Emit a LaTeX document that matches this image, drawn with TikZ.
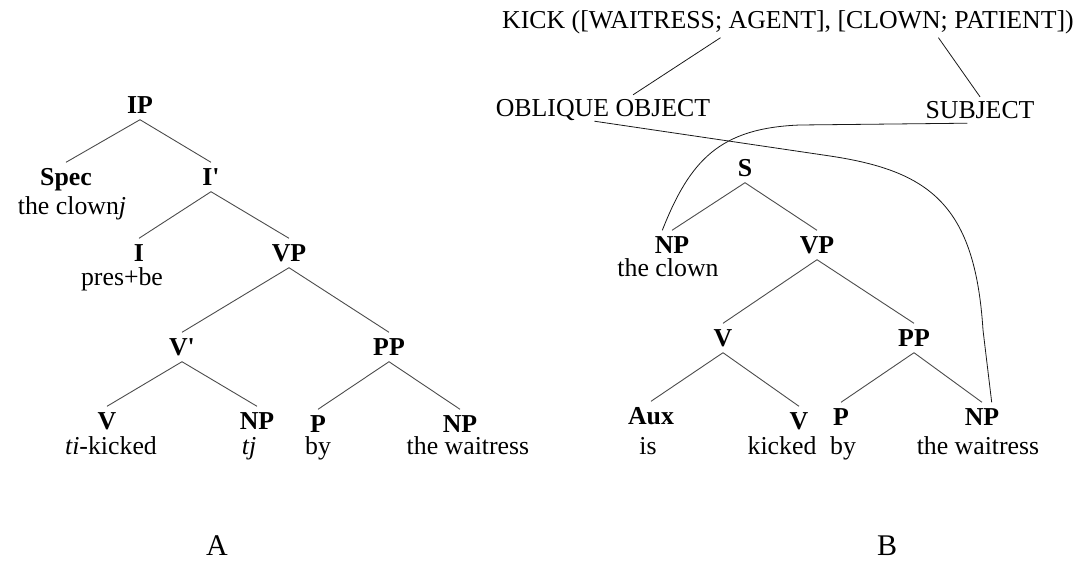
\documentclass[tikz,border=0pt]{standalone}
\usepackage{fontspec}
\setmainfont{Liberation Serif}
\usetikzlibrary{calc}

\tikzset{
  cat/.style={font=\fontsize{25.8}{30}\selectfont\bfseries, inner xsep=2pt, inner ysep=6pt, text height=17pt, text depth=0pt},
  word/.style={font=\fontsize{25.8}{30}\selectfont, inner sep=0pt, text height=17pt, text depth=0pt},
  role/.style={font=\fontsize{25.8}{30}\selectfont, inner xsep=0pt, inner ysep=4.5pt, text height=17pt, text depth=0pt},
  branch/.style={black!70, line width=0.9pt},
  link/.style={black!90, line width=0.8pt},
  panel/.style={font=\fontsize{30}{34}\selectfont, inner sep=0pt},
}

\begin{document}
\begin{tikzpicture}[x=1pt, y=-1pt]
                \useasboundingbox (0,0) rectangle (1088,562);

                %% tree A
                \node[cat] (ipA)   at (140,105) {IP};
                \node[cat] (specA) at (66,177)  {Spec};
                \node[cat] (ibarA) at (211,177) {I\textquotesingle};
                \node[cat] (iA)    at (139,253) {I};
                \node[cat] (vpA)   at (289,253) {VP};
                \node[cat] (vbarA) at (182,347) {V\textquotesingle};
                \node[cat] (ppA)   at (389,347) {PP};
                \node[cat] (vA)    at (107,421) {V};
                \node[cat] (npA)   at (257,421) {NP};
                \node[cat] (pA)    at (318,424) {P};
                \node[cat] (npAA)  at (460,424) {NP};

                \node[word] (clownA)   at (72,206)  {the clown\textit{j}};
                \node[word] (presA)    at (122,277) {pres+be};
                \node[word] (kickedA)  at (111,446) {\textit{ti}-kicked};
                \node[word] (traceA)   at (249,446) {\textit{tj}};
                \node[word] (byA)      at (318,446) {by};
                \node[word] (waitA)    at (468,446) {the waitress};

                \draw[branch] (ipA.south) -- (specA.north);
                \draw[branch] (ipA.south) -- (ibarA.north);
                \draw[branch] (ibarA.south) -- (iA.north);
                \draw[branch] (ibarA.south) -- (vpA.north);
                \draw[branch] (vpA.south) -- (vbarA.north);
                \draw[branch] (vpA.south) -- (ppA.north);
                \draw[branch] (vbarA.south) -- (vA.north);
                \draw[branch] (vbarA.south) -- (npA.north);
                \draw[branch] (ppA.south) -- (pA.north);
                \draw[branch] (ppA.south) -- (npAA.north);

                \node[panel] (labA) at (217,546) {A};

                %% tree B
                \node[cat] (sB)    at (745,168) {S};
                \node[cat] (npB)   at (672,245) {NP};
                \node[cat] (vpB)   at (817,245) {VP};
                \node[cat] (vB)    at (723,338) {V};
                \node[cat] (ppB)   at (914,338) {PP};
                \node[cat] (auxB)  at (651,416) {Aux};
                \node[cat] (vvB)   at (799,421) {V};
                \node[cat] (pB)    at (841,417) {P};
                \node[cat] (npBB)  at (982,417) {NP};

                \node[word] (clownB)  at (668,268) {the clown};
                \node[word] (isB)     at (648,446) {is};
                \node[word] (kickedB) at (782,446) {kicked};
                \node[word] (byB)     at (843,446) {by};
                \node[word] (waitB)   at (978,446) {the waitress};

                \draw[branch] (sB.south) -- (npB.north);
                \draw[branch] (sB.south) -- (vpB.north);
                \draw[branch] (vpB.south) -- (vB.north);
                \draw[branch] (vpB.south) -- (ppB.north);
                \draw[branch] (vB.south) -- (auxB.north);
                \draw[branch] (vB.south) -- (vvB.north);
                \draw[branch] (ppB.south) -- (pB.north);
                \draw[branch] (ppB.south) -- (npBB.north);

                \node[panel] (labB) at (887,546) {B};

                %% roles
                \node[role, inner ysep=9pt] (kick) at (788,20) {KICK ([WAITRESS; AGENT], [CLOWN; PATIENT])};
                \node[role] (obl)  at (603,108) {OBLIQUE OBJECT};
                \node[role] (subj) at (980,110) {SUBJECT};

                \draw[link] ($(kick.south west)!0.382!(kick.south east)$) -- ($(obl.north west)!0.64!(obl.north east)$);
                \draw[link] ($(kick.south west)!0.763!(kick.south east)$) -- (subj.north);

                %subject
                \draw[link] ($(npB.north)!0.5!(npB.north west)$) .. controls (690,160) and (720,128) .. (800,125)
                    -- ($(subj.south west)!0.385!(subj.south east)$);

                %oblique object
                \draw[link] ($(obl.south west)!0.46!(obl.south east)$) -- (830,156)
                    .. controls (930,171) and (975,205) .. (983,330)
                    -- ($(npBB.north)!0.5!(npBB.north east)$);

            \end{tikzpicture}
\end{document}
